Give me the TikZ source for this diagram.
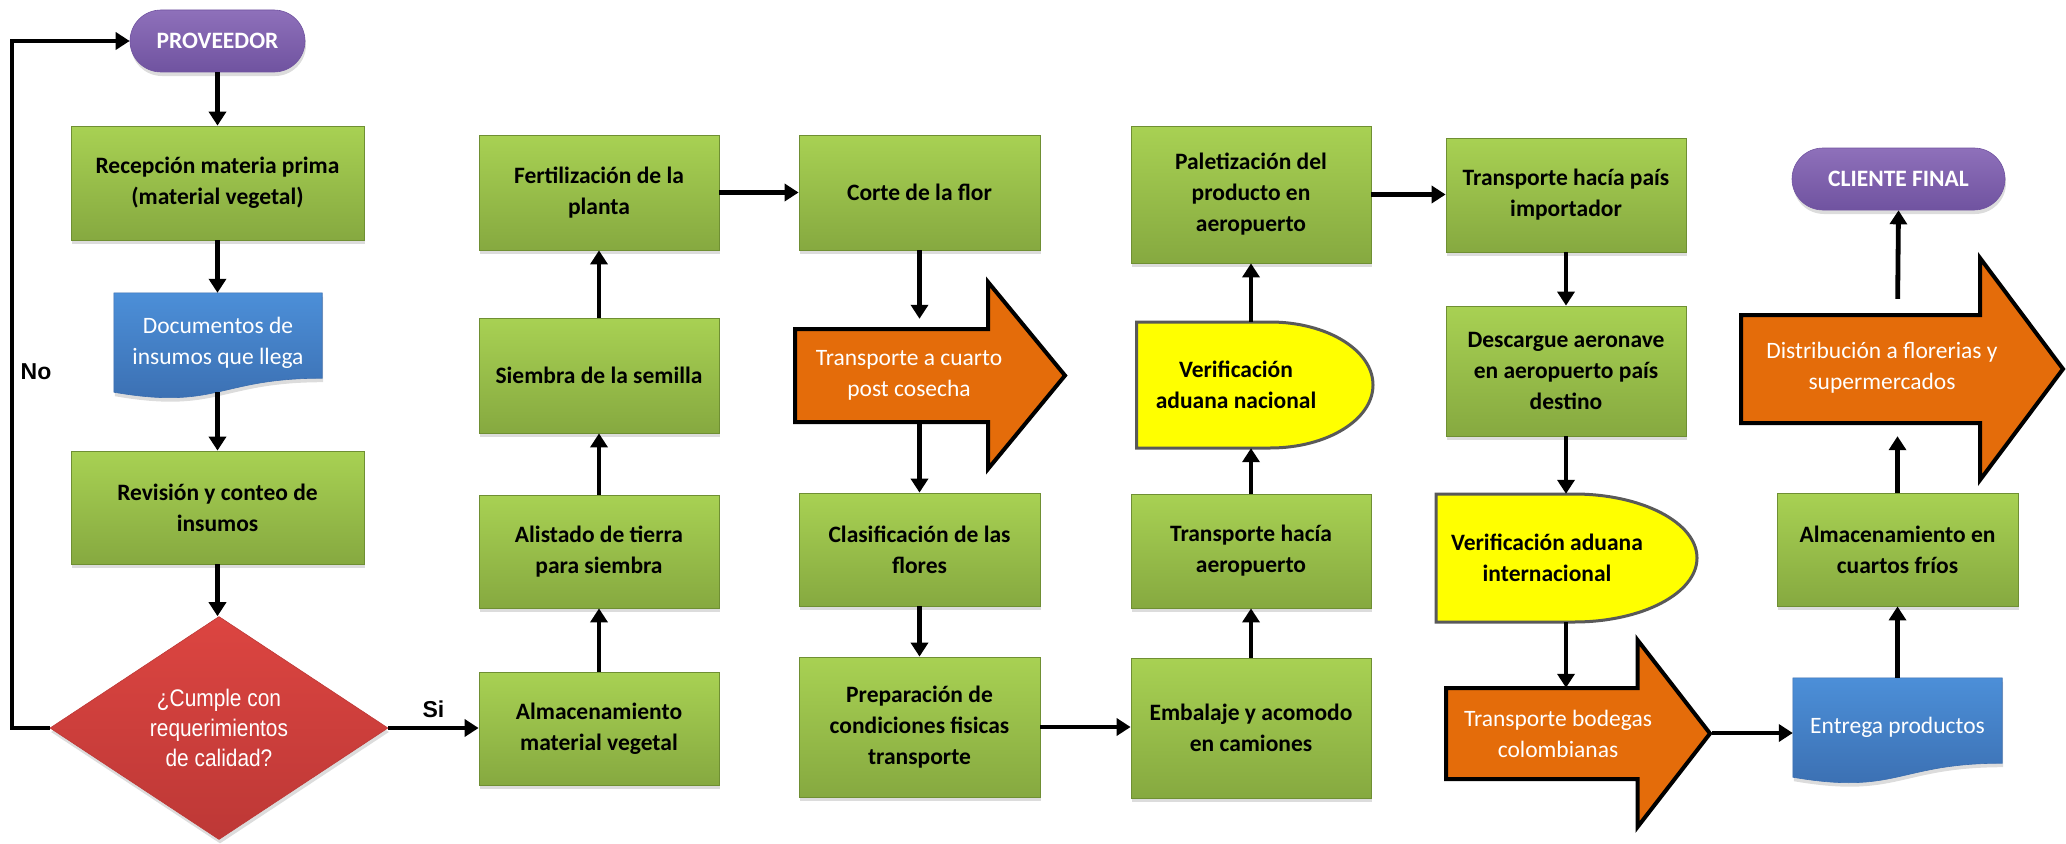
\documentclass[tikz,border=0pt]{standalone}
\usepackage{fontspec}
\setmainfont{Carlito}
\newfontfamily\narrowfont{Liberation Sans}[FakeStretch=0.87]
\newfontfamily\arialfont{Liberation Sans}
\usetikzlibrary{shapes.geometric,arrows.meta,shadows,calc,backgrounds}
\definecolor{gTop}{HTML}{A8D153}
\definecolor{gBot}{HTML}{86A940}
\definecolor{gEdge}{HTML}{6F8F33}
\definecolor{bTop}{HTML}{4C8FD8}
\definecolor{bBot}{HTML}{3A6DAF}
\definecolor{rTop}{HTML}{DC4541}
\definecolor{rBot}{HTML}{BD3836}
\definecolor{pTop}{HTML}{8E70BA}
\definecolor{pBot}{HTML}{7053A0}
\definecolor{orangeF}{HTML}{E46C0A}
\definecolor{yelF}{HTML}{FFFF00}
\definecolor{yelEdge}{HTML}{595959}
\begin{document}
\begin{tikzpicture}[x=1pt,y=-1pt,
  shd/.style={drop shadow={shadow xshift=1pt,shadow yshift=-4pt,opacity=0.28}},
  txtfont/.style={font=\fontsize{23.5}{31}\selectfont},
  gbox/.style={rectangle,draw=gEdge,line width=0.8pt,top color=gTop,bottom color=gBot,shd,
    align=center,inner sep=2pt,font=\bfseries\fontsize{23.5}{31}\selectfont,text=black},
  pill/.style={rectangle,rounded corners=31pt,draw=pBot,line width=0.6pt,top color=pTop,bottom color=pBot,shd,
    minimum height=62pt,align=center,font=\bfseries\fontsize{23.5}{31}\selectfont,text=white},
  doctext/.style={rectangle,inner sep=2pt,align=center,txtfont,text=white,minimum width=208pt,minimum height=99pt},
  docfill/.style={top color=bTop,bottom color=bBot,draw=bBot,line width=0.6pt,shd},
  decision/.style={diamond,aspect=1.516,inner sep=0pt,minimum width=338pt,minimum height=223pt,
    top color=rTop,bottom color=rBot,draw=rBot,line width=0.6pt,shd,align=center,text=white,
    font=\narrowfont\fontsize{24}{30}\selectfont},
  oarrow/.style={fill=orangeF,draw=black,line width=4pt,line join=miter},
  otext/.style={align=center,txtfont,text=white,inner sep=0pt,minimum width=190pt},
  yshape/.style={fill=yelF,draw=yelEdge,line width=3pt},
  ytext/.style={align=center,font=\bfseries\fontsize{23.5}{31}\selectfont,text=black,inner sep=0pt},
  arr/.style={line width=4.8pt,-{Triangle[length=14pt,width=17pt]}},
  lbl/.style={font=\arialfont\bfseries\fontsize{23}{28}\selectfont,text=black}
]
\useasboundingbox (0,0) rectangle (2066,843);

% ---------- column 1 ----------
\node[pill,minimum width=175pt] (prov) at (217.5,41) {PROVEEDOR};
\node[gbox,minimum width=293pt,minimum height=114pt] (rec) at (217.5,183) {Recepción materia prima\\(material vegetal)};
\node[doctext] (doc1) at (218,342.5) {Documentos de\\insumos que llega};
\begin{scope}[on background layer]
  \path[docfill] (doc1.north west) -- (doc1.north east) -- ([yshift=14pt]doc1.south east)
    .. controls ([yshift=14pt]doc1.south) and ([yshift=-18pt]doc1.south) .. (doc1.south west) -- cycle;
\end{scope}
\node[gbox,minimum width=293pt,minimum height=113pt] (rev) at (217.5,507.5) {Revisión y conteo de\\insumos};
\node[decision] (dec) at (219,728) {¿Cumple con\\requerimientos\\de calidad?};

% ---------- column 2 ----------
\node[gbox,minimum width=240pt,minimum height=113pt] (almv) at (599,728.5) {Almacenamiento\\material vegetal};
\node[gbox,minimum width=240pt,minimum height=113pt] (alis) at (599,551.5) {Alistado de tierra\\para siembra};
\node[gbox,minimum width=240pt,minimum height=115pt] (siem) at (599,375.5) {Siembra de la semilla};
\node[gbox,minimum width=240pt,minimum height=115pt] (fert) at (599,192.5) {Fertilización de la\\planta};

% ---------- column 3 ----------
\node[gbox,minimum width=241pt,minimum height=115pt] (corte) at (919.5,192.5) {Corte de la flor};
\draw[oarrow] (795,329) -- (988,329) -- (988,282) -- (1065,375.5) -- (988,469) -- (988,422) -- (795,422) -- cycle;
\node[otext,minimum height=93pt] (tpc) at (909,375.5) {Transporte a cuarto\\post cosecha};
\node[gbox,minimum width=241pt,minimum height=113pt] (clas) at (919.5,549.5) {Clasificación de las\\flores};
\node[gbox,minimum width=241pt,minimum height=140pt] (prep) at (919.5,727) {Preparación de\\condiciones fisicas\\transporte};

% ---------- column 4 ----------
\node[gbox,minimum width=240pt,minimum height=140pt] (emb) at (1251,728) {Embalaje y acomodo\\en camiones};
\node[gbox,minimum width=240pt,minimum height=114pt] (taero) at (1251,551) {Transporte hacía\\aeropuerto};
\path[yshape] (1136.5,322) -- (1270,322) arc[start angle=90,end angle=-90,x radius=103pt,y radius=63pt] -- (1136.5,448) -- cycle;
\node[ytext,minimum height=126pt] (vnac) at (1236,385) {Verificación\\aduana nacional};
\node[gbox,minimum width=240pt,minimum height=137pt] (pal) at (1251,194.5) {Paletización del\\producto en\\aeropuerto};

% ---------- column 5 ----------
\node[gbox,minimum width=240pt,minimum height=114pt] (tpi) at (1566,195) {Transporte hacía país\\importador};
\node[gbox,minimum width=240pt,minimum height=130pt] (desc) at (1566,371) {Descargue aeronave\\en aeropuerto país\\destino};
\path[yshape] (1436,494) -- (1574,494) arc[start angle=90,end angle=-90,x radius=123pt,y radius=64pt] -- (1436,622) -- cycle;
\node[ytext,minimum height=128pt] (vint) at (1547,558) {Verificación aduana\\internacional};
\draw[oarrow] (1446,688) -- (1637.5,688) -- (1637.5,640) -- (1710,733.5) -- (1637.5,827) -- (1637.5,779) -- (1446,779) -- cycle;
\node[otext,minimum height=91pt] (tbc) at (1558,733.5) {Transporte bodegas\\colombianas};
\coordinate (tbctip) at (1712,733);

% ---------- column 6 ----------
\node[doctext,minimum width=209pt] (ent) at (1897.5,727.5) {Entrega productos};
\begin{scope}[on background layer]
  \path[docfill] (ent.north west) -- (ent.north east) -- ([yshift=14pt]ent.south east)
    .. controls ([yshift=14pt]ent.south) and ([yshift=-18pt]ent.south) .. (ent.south west) -- cycle;
\end{scope}
\node[gbox,minimum width=241pt,minimum height=113pt] (alc) at (1897.5,549.5) {Almacenamiento en\\cuartos fríos};
\draw[oarrow] (1741,315) -- (1980,315) -- (1980,258) -- (2063,369) -- (1980,480) -- (1980,423) -- (1741,423) -- cycle;
\node[otext,minimum height=108pt,minimum width=230pt] (dist) at (1882,368) {Distribución a florerias y\\supermercados};
\node[pill,minimum width=213pt] (cli) at (1898.5,179) {CLIENTE FINAL};

% ---------- connectors ----------
\draw[arr] (prov.south) -- (prov.south |- rec.north);
\draw[arr] (rec.south) -- (rec.south |- doc1.north);
\draw[arr] (rec.south |- doc1.south) -- (rec.south |- rev.north);
\draw[arr] (rev.south) -- (rev.south |- dec.north);
\draw[arr] (dec.east) -- (dec.east -| almv.west) node[midway,above=5pt,lbl] (si) {Si};
\coordinate (fb) at (12,728);
\draw[arr] (dec.west) -- (fb) |- (prov.west);
\node[lbl] (no) at (36,372) {No};

\draw[arr] (almv.north) -- (alis.south);
\draw[arr] (alis.north) -- (siem.south);
\draw[arr] (siem.north) -- (fert.south);
\draw[arr] (fert.east) -- (corte.west);
\draw[arr,shorten >=10pt] (corte.south) -- (corte.south |- tpc.north);
\draw[arr] (corte.south |- tpc.south) -- (clas.north);
\draw[arr] (clas.south) -- (prep.north);
\draw[arr] (prep.east) -- (prep.east -| emb.west);
\draw[arr] (emb.north) -- (taero.south);
\draw[arr] (taero.north) -- (taero.north |- vnac.south);
\draw[arr] (pal.south |- vnac.north) -- (pal.south);
\draw[arr] (pal.east) -- (pal.east -| tpi.west);
\draw[arr] (tpi.south) -- (desc.north);
\draw[arr] (desc.south) -- (desc.south |- vint.north);
\draw[arr] (desc.south |- vint.south) -- (desc.south |- tbc.north);
\draw[arr] (tbctip) -- (tbctip -| ent.west);
\draw[arr] (ent.north) -- (alc.south);
\draw[arr,shorten >=14pt] (alc.north) -- (alc.north |- dist.south);
\draw[arr,shorten <=15pt] (alc.north |- dist.north) -- (cli.south);
\end{tikzpicture}
\end{document}
